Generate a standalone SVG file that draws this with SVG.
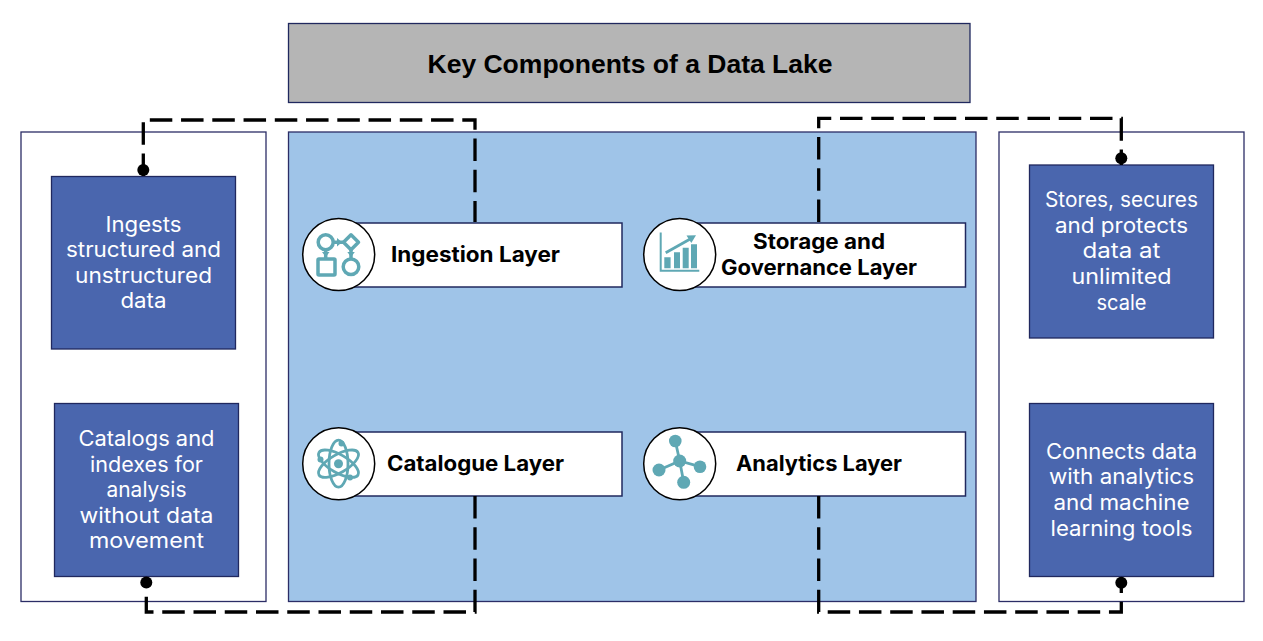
<svg xmlns="http://www.w3.org/2000/svg" width="1263" height="641" viewBox="0 0 1263 641">
<style>
.panel{fill:#fff;stroke:#2b2d66;stroke-width:1.3}
.blue{fill:#4a66ae;stroke:#20285e;stroke-width:1.3}
.bar{fill:#fff;stroke:#20285e;stroke-width:1.5}
.disc{fill:#fff;stroke:#000;stroke-width:1.5}
.d{font-family:"Inter","Liberation Sans",sans-serif;font-size:21px;fill:#fff;text-anchor:middle}
.l{font-family:"Inter","Liberation Sans",sans-serif;font-size:21px;font-weight:700;fill:#000;text-anchor:middle}
.t{font-family:"Liberation Sans",Arial,sans-serif;font-size:26.5px;font-weight:700;fill:#000;text-anchor:middle}
.is{fill:none;stroke:#5fa8b4;stroke-width:3.5}
.if{fill:#5fa8b4;stroke:none}
.c{fill:none;stroke:#000;stroke-width:3.3;stroke-dasharray:22.5 8.75}
.dot{fill:#000}
</style>
<rect width="1263" height="641" fill="#fff"/>
<g id="title"><rect x="288.5" y="23.5" width="681.5" height="79" fill="#b5b5b5" stroke="#20285e" stroke-width="1.3"/><text class="t" x="630" y="73" textLength="405" lengthAdjust="spacingAndGlyphs">Key Components of a Data Lake</text></g>
<g id="panel-left"><rect class="panel" x="21" y="132" width="245" height="469.5"/></g>
<g id="panel-center"><rect x="288.5" y="132" width="687.5" height="469.5" fill="#9fc4e8" stroke="#2b2d66" stroke-width="1.3"/></g>
<g id="panel-right"><rect class="panel" x="999" y="132" width="245" height="469.5"/></g>
<g id="desc-ingest"><rect class="blue" x="51.5" y="176.5" width="184" height="172.5"/>
<text class="d" x="143.5" y="232" textLength="76" lengthAdjust="spacingAndGlyphs">Ingests</text>
<text class="d" x="143.5" y="257" textLength="155" lengthAdjust="spacingAndGlyphs">structured and</text>
<text class="d" x="143.5" y="283" textLength="137" lengthAdjust="spacingAndGlyphs">unstructured</text>
<text class="d" x="143.5" y="308" textLength="46" lengthAdjust="spacingAndGlyphs">data</text></g>
<g id="desc-catalog"><rect class="blue" x="54.5" y="403.5" width="184" height="173"/>
<text class="d" x="146.5" y="446" textLength="136" lengthAdjust="spacingAndGlyphs">Catalogs and</text>
<text class="d" x="146.5" y="472" textLength="113" lengthAdjust="spacingAndGlyphs">indexes for</text>
<text class="d" x="146.5" y="497" textLength="80" lengthAdjust="spacingAndGlyphs">analysis</text>
<text class="d" x="146.5" y="523" textLength="134" lengthAdjust="spacingAndGlyphs">without data</text>
<text class="d" x="146.5" y="548" textLength="115" lengthAdjust="spacingAndGlyphs">movement</text></g>
<g id="desc-storage"><rect class="blue" x="1029.5" y="165" width="184" height="173"/>
<text class="d" x="1121.5" y="207" textLength="153" lengthAdjust="spacingAndGlyphs">Stores, secures</text>
<text class="d" x="1121.5" y="233" textLength="133" lengthAdjust="spacingAndGlyphs">and protects</text>
<text class="d" x="1121.5" y="258" textLength="78" lengthAdjust="spacingAndGlyphs">data at</text>
<text class="d" x="1121.5" y="284" textLength="100" lengthAdjust="spacingAndGlyphs">unlimited</text>
<text class="d" x="1121.5" y="310" textLength="50" lengthAdjust="spacingAndGlyphs">scale</text></g>
<g id="desc-analytics"><rect class="blue" x="1029.5" y="403.5" width="184" height="173"/>
<text class="d" x="1121.5" y="459" textLength="151" lengthAdjust="spacingAndGlyphs">Connects data</text>
<text class="d" x="1121.5" y="484" textLength="145" lengthAdjust="spacingAndGlyphs">with analytics</text>
<text class="d" x="1121.5" y="510" textLength="136" lengthAdjust="spacingAndGlyphs">and machine</text>
<text class="d" x="1121.5" y="536" textLength="142" lengthAdjust="spacingAndGlyphs">learning tools</text></g>
<g id="layer-ingestion"><rect class="bar" x="339" y="223" width="283" height="64"/><circle class="disc" cx="338.7" cy="254.5" r="36"/>
<circle class="is" cx="325.7" cy="242.3" r="7.5"/><rect class="is" x="318" y="259" width="17" height="16" rx="1"/><circle class="is" cx="351" cy="266.7" r="7.8"/><path class="is" stroke-linejoin="round" d="M351,234.800l7.500,7.500l-7.500,7.500l-7.500,-7.500z"/>
<path class="is" d="M325.700,250V258M333.500,242.300H343M351,250V258"/>
<path class="if" d="M337,238l5,4.300l-5,4.300zM322,252h7.500l-3.700,5zM347.300,252h7.500l-3.700,5z"/>
<text class="l" x="475.500" y="262" textLength="169" lengthAdjust="spacingAndGlyphs">Ingestion Layer</text></g>
<g id="layer-storage"><rect class="bar" x="680" y="223" width="285.500" height="64"/><circle class="disc" cx="679.700" cy="254.500" r="36"/>
<path class="is" style="stroke-width:2" d="M660.700,232.500V270.700H699.300"/>
<path class="if" d="M664.300,257.300h6.300v11h-6.300zM674,252.300h6v16h-6zM682.700,247.700h6v20.600h-6zM691,244.300h6v24h-6z"/>
<path class="is" style="stroke-width:2.800" d="M665.700,252.700L692,238"/><path class="if" d="M686.500,235.500L696,235.300L691.300,243z"/>
<text class="l" x="819" y="249" textLength="132" lengthAdjust="spacingAndGlyphs">Storage and</text>
<text class="l" x="819" y="275" textLength="196" lengthAdjust="spacingAndGlyphs">Governance Layer</text></g>
<g id="layer-catalogue"><rect class="bar" x="339" y="432" width="283" height="64"/><circle class="disc" cx="338.700" cy="463.700" r="36"/>
<g class="is" style="stroke-width:2.800"><ellipse cx="338.500" cy="463.700" rx="22.500" ry="9" transform="rotate(30 338.500 463.700)"/><ellipse cx="338.500" cy="463.700" rx="22.500" ry="9" transform="rotate(150 338.500 463.700)"/><ellipse cx="338.500" cy="463.700" rx="23.500" ry="9.500" transform="rotate(90 338.500 463.700)"/></g>
<circle class="if" cx="338.500" cy="463.700" r="4.500"/><circle class="if" cx="341.500" cy="443.500" r="3"/><circle class="if" cx="320.500" cy="459.500" r="3"/><circle class="if" cx="350" cy="477.500" r="3"/>
<text class="l" x="475.500" y="471" textLength="177" lengthAdjust="spacingAndGlyphs">Catalogue Layer</text></g>
<g id="layer-analytics"><rect class="bar" x="680" y="432" width="285.500" height="64"/><circle class="disc" cx="679.700" cy="463.700" r="36"/>
<path class="is" style="stroke-width:2.800" d="M675.300,441L679.700,461L683.700,482.300M659,470L679.700,461L700,466.700"/>
<circle class="if" cx="679.700" cy="461" r="6.500"/><circle class="if" cx="675.300" cy="441" r="6.300"/><circle class="if" cx="659" cy="470" r="6.500"/><circle class="if" cx="700" cy="466.700" r="6.300"/><circle class="if" cx="683.700" cy="482.300" r="6.500"/>
<text class="l" x="819" y="471" textLength="166" lengthAdjust="spacingAndGlyphs">Analytics Layer</text></g>
<g id="connectors">
<path class="c" d="M143.300,176V120H475V222"/><circle class="dot" cx="143.300" cy="170" r="6"/>
<path class="c" d="M475,496V612H146.300V577"/><circle class="dot" cx="146.300" cy="582.500" r="6"/>
<path class="c" d="M818.700,222V118.300H1121.300V165"/><circle class="dot" cx="1121.300" cy="158.300" r="6"/>
<path class="c" d="M818.700,496V612H1121.300V577"/><circle class="dot" cx="1121.300" cy="582.700" r="6"/>
</g>
</svg>
